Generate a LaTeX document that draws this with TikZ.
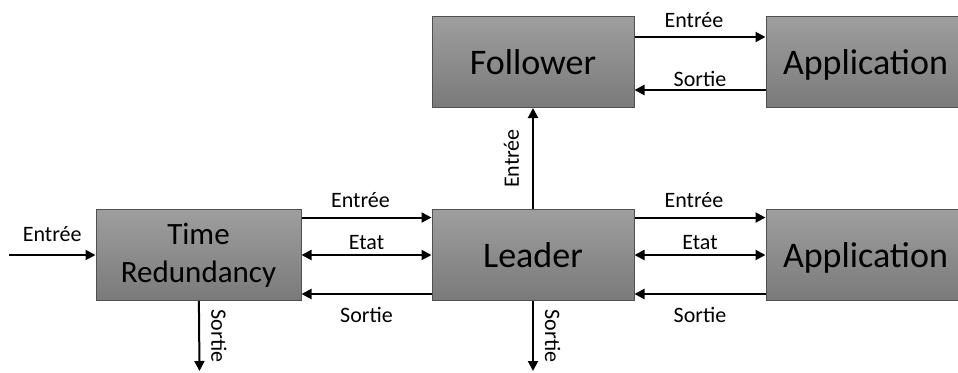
\documentclass[tikz,border=0pt]{standalone}
\usepackage{fontspec}
\setmainfont{Carlito}
\usepackage{tikz}
\usetikzlibrary{positioning,arrows.meta}
\definecolor{boxtop}{HTML}{9E9E9E}
\definecolor{boxbot}{HTML}{7A7A7A}
\definecolor{boxline}{HTML}{505050}

\begin{document}
\begin{tikzpicture}[x=0.75pt, y=-0.75pt,
                    main node/.style={rectangle,draw=boxline,line width=0.75pt,top color=boxtop,bottom color=boxbot,
                      minimum width=151.5pt,minimum height=68.25pt,inner sep=0pt,align=center,
                      font=\fontsize{27}{28.5}\selectfont},
                    app node/.style={main node,inner xsep=12.75pt,text depth=0pt},
                    flow/.style={line width=1.5pt,-{Triangle[length=7.5pt,width=7.5pt]}},
                    both/.style={line width=1.5pt,{Triangle[length=7.5pt,width=7.5pt]}-{Triangle[length=7.5pt,width=7.5pt]}},
                    lbl/.style={font=\fontsize{16.5}{18}\selectfont}]

   \useasboundingbox (0,0) rectangle (958,372);

   \node[main node] (leader) at (533,255) {Leader};
   \node[main node] (follower) [above=75.75pt of leader] {Follower};
   \node[main node,minimum width=153.75pt,font=\fontsize{23.25}{28.5}\selectfont] (tr) [left=97.5pt of leader] {Time\\Redundancy};
   \node[app node] (appl) [right=98.25pt of leader] {\makebox[150pt][l]{Application}};
   \node[app node] (appf) [right=98.25pt of follower] {\makebox[150pt][l]{Application}};

   \coordinate (in) at (9,255);
   \coordinate (trout) at (199.5,371);
   \coordinate (lout) at (533,371);

  \path[every node/.style={lbl}]
    (in) edge[flow] node[above=6pt] {Entrée} (tr)
    (tr) edge[flow] node[rotate=-90,anchor=south,inner sep=8.25pt] {Sortie} (trout)

    % time redundancy - leader
    ([yshift=28.1pt]tr.east) edge[flow] node[above=3pt,xshift=-4.5pt] {Entrée} ([yshift=28.1pt]leader.west)
    (tr.east) edge[both] node[above] {Etat} (leader.west)
    ([yshift=-29.25pt]leader.west) edge[flow] node[below=6pt] {Sortie} ([yshift=-29.25pt]tr.east)

    % leader - application
    ([yshift=28.1pt]leader.east) edge[flow] node[above=3pt,xshift=-4.5pt] {Entrée} ([yshift=28.1pt]appl.west)
    (leader.east) edge[both] node[above] {Etat} (appl.west)
    ([yshift=-29.25pt]appl.west) edge[flow] node[below=6pt] {Sortie} ([yshift=-29.25pt]leader.east)

    (leader)
       edge[flow] node[rotate=90,anchor=south,inner sep=9.75pt] {Entrée} (follower)
       edge[flow] node[rotate=-90,anchor=south,inner sep=8.25pt] {Sortie} (lout)

    % follower - application
    ([yshift=18.75pt]follower.east) edge[flow] node[above=3pt,xshift=-4.5pt] {Entrée} ([yshift=18.75pt]appf.west)
    ([yshift=-21pt]appf.west) edge[flow] node[above=-1.5pt] {Sortie} ([yshift=-21pt]follower.east)
       ;

\end{tikzpicture}
\end{document}
